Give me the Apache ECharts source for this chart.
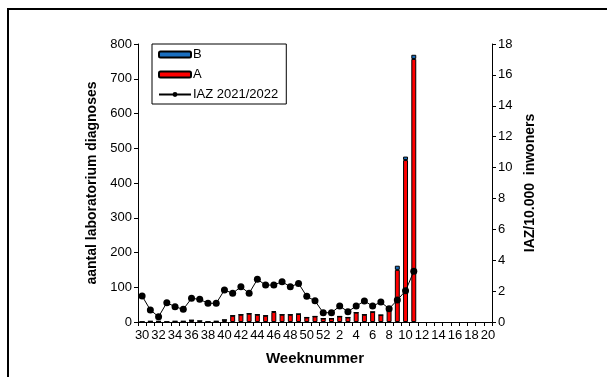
<!DOCTYPE html>
<html><head><meta charset="utf-8">
<script src="https://cdn.jsdelivr.net/npm/echarts@6/dist/echarts.min.js"></script>
<style>html,body{margin:0;padding:0;background:#fff}#c{width:607px;height:377px}</style>
</head><body><div id="c"></div>
<script>
var weeks = ['30','31','32','33','34','35','36','37','38','39','40','41','42','43','44','45','46','47','48','49','50','51','52',
             '1','2','3','4','5','6','7','8','9','10','11','12','13','14','15','16','17','18','19','20'];
var seriesA = [0,2,2,0,2,2,5,3,0,2,6,18,21,24,21,18,29,21,21,23,13,16,10,
               10,16,13,27,21,29,20,36,150,466,757,null,null,null,null,null,null,null,null,null];
var seriesB = [0,0,0,0,0,0,0,0,0,0,0,0,0,0,0,0,2,0,0,0,0,0,0,
               0,0,0,0,0,0,0,0,12,10,12,null,null,null,null,null,null,null,null,null];
var iaz = [1.68,0.78,0.34,1.25,0.99,0.82,1.53,1.47,1.21,1.21,2.07,1.86,2.28,1.86,2.76,2.39,2.39,2.61,2.28,2.5,1.66,1.37,0.6,
           0.6,1.03,0.67,1.03,1.36,1.03,1.29,0.86,1.42,2.02,3.28,null,null,null,null,null,null,null,null,null];

var FONT = 'Liberation Sans, Arial, sans-serif';
var chart = echarts.init(document.getElementById('c'), null, {renderer:'canvas'});
chart.setOption({
  animation:false,
  backgroundColor:'#fff',
  textStyle:{fontFamily:FONT},
  graphic:[{type:'rect', shape:{x:8,y:9,width:700,height:500}, style:{fill:'none',stroke:'#000',lineWidth:2}, z:-1}],
  grid:{left:138, right:115, top:44, bottom:55},
  legend:{
    data:['B','A','IAZ 2021/2022'], orient:'vertical', left:152, top:44,
    itemWidth:32, itemHeight:6, itemGap:5,
    padding:[3,8,2,6], borderColor:'#000', borderWidth:1, backgroundColor:'#fff',
    textStyle:{fontFamily:FONT, fontSize:13, color:'#000', padding:[0,0,0,-3], lineHeight:15}
  },
  xAxis:{
    type:'category', data:weeks, boundaryGap:true,
    name:'Weeknummer', nameLocation:'middle', nameGap:29,
    nameTextStyle:{fontFamily:FONT, fontSize:15, fontWeight:'bold', color:'#000'},
    axisLine:{lineStyle:{color:'#000',width:1}},
    axisTick:{show:true, interval:0, length:4, lineStyle:{color:'#000'}},
    axisLabel:{interval:1, fontFamily:FONT, fontSize:13, color:'#000', margin:7}
  },
  yAxis:[{
    type:'value', min:0, max:800, interval:100,
    name:'aantal laboratorium diagnoses', nameLocation:'middle', nameGap:37, nameRotate:90,
    nameTextStyle:{fontFamily:FONT, fontSize:14, fontWeight:'bold', color:'#000'},
    axisLine:{show:true, lineStyle:{color:'#000'}},
    axisTick:{show:true, length:4, lineStyle:{color:'#000'}},
    axisLabel:{fontFamily:FONT, fontSize:13, color:'#000', margin:6},
    splitLine:{show:false}
  },{
    type:'value', min:0, max:18, interval:2, position:'right',
    name:'IAZ/10.000  inwoners', nameLocation:'middle', nameGap:30, nameRotate:90,
    nameTextStyle:{fontFamily:FONT, fontSize:14, fontWeight:'bold', color:'#000'},
    axisLine:{show:true, lineStyle:{color:'#000'}},
    axisTick:{show:true, length:4, lineStyle:{color:'#000'}},
    axisLabel:{fontFamily:FONT, fontSize:13, color:'#000', margin:6},
    splitLine:{show:false}
  }],
  series:[{
    name:'A', type:'bar', stack:'s', data:seriesA, barCategoryGap:'40%',
    itemStyle:{color:'#ff0000', borderColor:'#000', borderWidth:1}
  },{
    name:'B', type:'bar', stack:'s', data:seriesB,
    itemStyle:{color:'#1a6fc0', borderColor:'#000', borderWidth:1}
  },{
    name:'IAZ 2021/2022', type:'line', yAxisIndex:1, data:iaz,
    symbol:'circle', symbolSize:7, showSymbol:true, showAllSymbol:true,
    lineStyle:{color:'#000', width:1}, itemStyle:{color:'#000'}, z:5
  }]
});
</script></body></html>
